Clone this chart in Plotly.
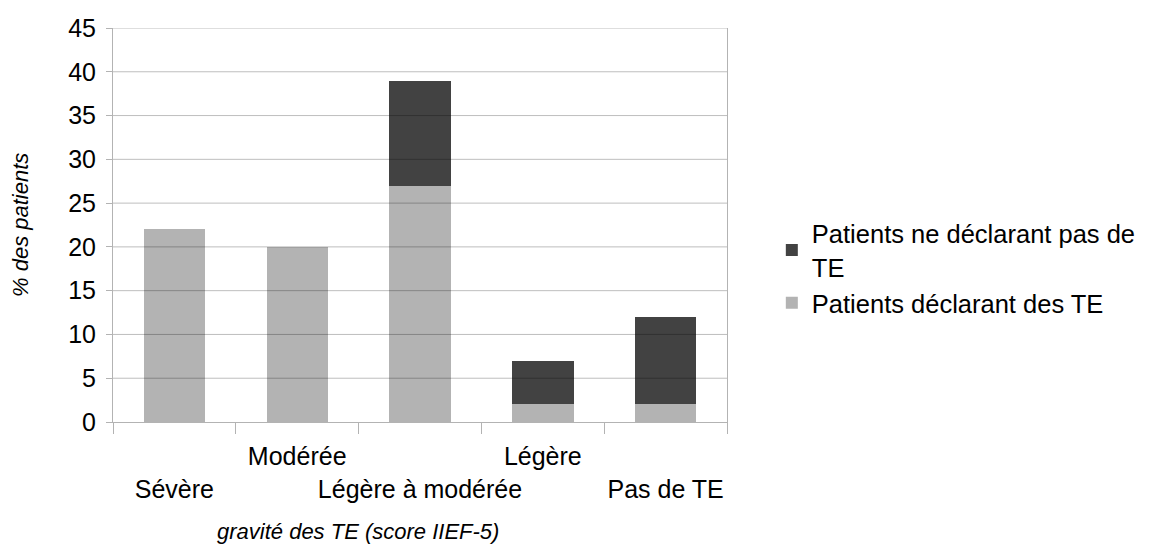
import plotly.graph_objects as go

categories = ["Sévère", "Modérée", "Légère à modérée", "Légère", "Pas de TE"]
tick_labels = [" <br>Sévère", "Modérée", " <br>Légère à modérée", "Légère", " <br>Pas de TE"]
declarant = [22, 20, 27, 2, 2]
non_declarant = [0, 0, 12, 5, 10]
y_ticks = [0, 5, 10, 15, 20, 25, 30, 35, 40, 45]

FONT = "Liberation Sans, Arial, sans-serif"
GRID = "rgba(0,0,0,0.26)"
AXIS = "#b3b3b3"

fig = go.Figure()
fig.add_trace(go.Bar(x=categories, y=declarant, name="Patients déclarant des TE",
                     marker=dict(color="#b3b3b3", line=dict(width=0))))
fig.add_trace(go.Bar(x=categories, y=non_declarant, name="Patients ne déclarant pas de<br>TE",
                     marker=dict(color="#424242", line=dict(width=0))))

shapes = [dict(type="line", xref="paper", x0=0, x1=1, yref="y", y0=v, y1=v,
               line=dict(color=GRID, width=1), layer="above") for v in y_ticks[1:]]

fig.update_layout(
    width=1144, height=538,
    margin=dict(l=105, r=425, t=20, b=124, autoexpand=False),
    paper_bgcolor="white", plot_bgcolor="white",
    barmode="stack", bargap=0.5,
    font=dict(family=FONT, size=25, color="#000000"),
    shapes=shapes,
    showlegend=True,
    legend=dict(x=1.073, y=0.39, xanchor="left", yanchor="middle",
                traceorder="reversed", font=dict(size=25.5), itemwidth=30,
                tracegroupgap=4, bgcolor="rgba(0,0,0,0)"),
    annotations=[
        dict(text="<i>% des patients</i>", xref="paper", yref="paper", x=-0.1515, y=0.5,
             textangle=-90, showarrow=False, font=dict(size=22), xanchor="center", yanchor="middle"),
        dict(text="<i>gravité des TE (score IIEF-5)</i>", xref="paper", yref="paper",
             x=(358 - 113) / 614, y=(422 - 531) / 394, showarrow=False, font=dict(size=22),
             xanchor="center", yanchor="middle"),
    ],
)
fig.update_xaxes(
    type="category", tickmode="array", tickvals=categories, ticktext=tick_labels,
    showline=True, linecolor=AXIS, linewidth=1, automargin=False, tickangle=0,
    ticks="outside", tickson="boundaries", ticklen=11, tickcolor=AXIS, tickwidth=1,
    ticklabelstandoff=12,
    showgrid=False, layer="above traces", tickfont=dict(size=25),
)
fig.update_yaxes(
    range=[0, 45], tickmode="array", tickvals=y_ticks, automargin=False,
    showline=True, mirror=True, linecolor=AXIS, linewidth=1,
    ticks="outside", ticklen=6, tickcolor=AXIS, tickwidth=1, ticklabelstandoff=5,
    showgrid=False, zeroline=False, layer="above traces", tickfont=dict(size=25),
)

fig.write_html("out.html")
